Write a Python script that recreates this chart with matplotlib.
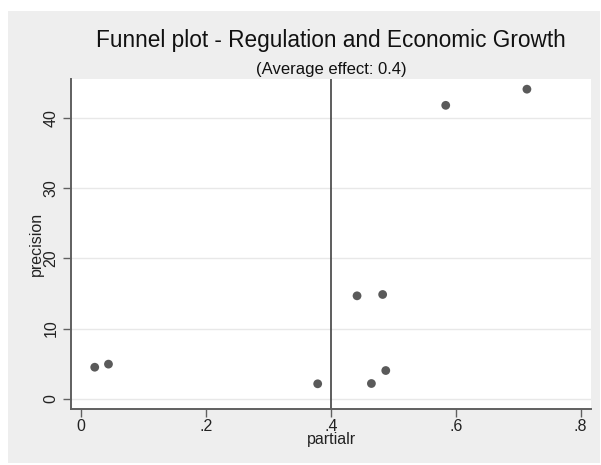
import matplotlib
matplotlib.use("Agg")
import matplotlib.pyplot as plt
from matplotlib.patches import Rectangle

# Study-level estimates: partial correlation and precision (1/SE)
partialr = [0.022, 0.044, 0.379, 0.442, 0.483, 0.465, 0.488, 0.584, 0.714]
precision = [4.50, 4.94, 2.14, 14.67, 14.86, 2.18, 4.03, 41.80, 44.10]
average_effect = 0.4

x_ticks = [0, 0.2, 0.4, 0.6, 0.8]
x_ticklabels = ["0", ".2", ".4", ".6", ".8"]
y_ticks = [0, 10, 20, 30, 40]

plt.rcParams["font.family"] = ["Liberation Sans", "DejaVu Sans"]

W, H = 601, 465
fig = plt.figure(figsize=(W / 100, H / 100), dpi=100)
fig.patch.set_facecolor("white")

# light grey graph region
fig.add_artist(Rectangle((8 / W, 1 - 463 / H), (600 - 8) / W, (463 - 11) / H,
                         transform=fig.transFigure, facecolor="#EEEEEE",
                         edgecolor="none", zorder=0))

left, right, top, bottom = 71, 591, 79, 409
ax = fig.add_axes([left / W, 1 - bottom / H, (right - left) / W, (bottom - top) / H])
ax.set_facecolor("white")

ax.set_xlim(-0.016, 0.8166)
ax.set_ylim(-1.45, 45.55)

ax.set_yticks(y_ticks)
ax.set_xticks(x_ticks)
ax.set_xticklabels(x_ticklabels)
ax.grid(axis="y", color="#E8E8E8", linewidth=1.0)
ax.set_axisbelow(True)

for s in ("top", "right"):
    ax.spines[s].set_visible(False)
for s in ("left", "bottom"):
    ax.spines[s].set_color("#606060")
    ax.spines[s].set_linewidth(1.4)

ax.tick_params(axis="both", direction="out", length=6, width=1.0, color="#606060",
               labelsize=11.5, labelcolor="#222222")
ax.tick_params(axis="x", pad=1)
ax.tick_params(axis="y", pad=3)
for lab in ax.get_yticklabels():
    lab.set_rotation(90)
    lab.set_va("center")

ax.axvline(average_effect, color="#505050", linewidth=1.3, zorder=2)
ax.scatter(partialr, precision, s=40, color="#5A5A5A", edgecolors="none", zorder=3)

ax.set_xlabel("partialr", fontsize=11.5, color="#222222", labelpad=-1)
ax.set_ylabel("precision", fontsize=11.5, color="#222222", labelpad=0)

cx = ((left + right) / 2) / W
fig.text(cx, 1 - 41 / H, "Funnel plot - Regulation and Economic Growth",
         ha="center", va="center", fontsize=16.3, color="#111111")
fig.text(cx, 1 - 69 / H, "(Average effect: " + str(average_effect) + ")",
         ha="center", va="center", fontsize=12, color="#111111")

fig.savefig("out.png", dpi=100, facecolor=fig.get_facecolor())
